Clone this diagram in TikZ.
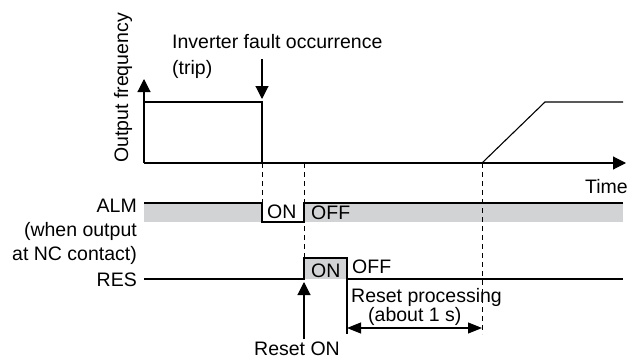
\documentclass[tikz,border=0pt]{standalone}
\usepackage{fontspec}
\setmainfont{Liberation Sans}
\usetikzlibrary{arrows.meta}
\definecolor{band}{HTML}{D2D3D4}
\begin{document}
\begin{tikzpicture}[x=1pt,y=-1pt,
  sig/.style={line width=1.1pt, line join=miter},
  guide/.style={line width=0.9pt, dash pattern=on 5pt off 4pt},
  bigarrow/.style={line width=1.1pt,-{Triangle[length=13pt,width=13pt]}},
  dimarrow/.style={line width=1.1pt,{Triangle[length=14pt,width=11pt]}-{Triangle[length=14pt,width=11pt]}},
  lbl/.style={inner sep=0pt, font=\fontsize{19.5}{23}\selectfont},
]
\useasboundingbox (0,0) rectangle (630,359);
% coordinates
\coordinate (O) at (144,163);
\coordinate (Ytip) at (144,79);
\coordinate (Xtip) at (626,163);
\coordinate (f1) at (144,102);
\coordinate (f2) at (262,102);
\coordinate (f3) at (262,163);
\coordinate (r0) at (482,163);
\coordinate (r1) at (545,102);
\coordinate (r2) at (623,102);
\coordinate (faultS) at (262,59);
\coordinate (faultT) at (262,99);
\coordinate (a0) at (144,203);
\coordinate (a1) at (262,203);
\coordinate (a2) at (262,222);
\coordinate (a3) at (304,222);
\coordinate (a4) at (304,203);
\coordinate (a5) at (623,203);
\coordinate (s0) at (144,279);
\coordinate (s1) at (304,279);
\coordinate (s2) at (304,258);
\coordinate (s3) at (347,258);
\coordinate (s4) at (347,279);
\coordinate (s5) at (623,279);
\coordinate (tick) at (347,334);
\coordinate (d1) at (304,163);
\coordinate (d2) at (482,334);
\coordinate (pL) at (347,328);
\coordinate (pR) at (482,328);
\coordinate (rsS) at (304,339);
\coordinate (rsT) at (304,282);
% gray fills
\fill[band] (144,203) rectangle (262,222);
\fill[band] (304,203) rectangle (623,222);
\fill[band] (s2) rectangle (s4);
% axes
\draw[bigarrow] (O) -- (Ytip);
\draw[bigarrow] (O) -- (Xtip);
% frequency
\draw[sig] (f1) -- (f2) -- (f3);
\draw[sig] (r0) -- (r1) -- (r2);
\draw[bigarrow] (faultS) -- (faultT);
% ALM
\draw[sig] (a0) -- (a1) -- (a2) -- (a3) -- (a4) -- (a5);
% RES
\draw[sig] (s0) -- (s1) -- (s2) -- (s3) -- (s4) -- (s5);
\draw[sig] (s4) -- (tick);
% guides
\draw[guide] (f3) -- (a1);
\draw[guide] (d1) -- (s2);
\draw[guide] (r0) -- (d2);
% arrows
\draw[dimarrow] (pL) -- (pR);
\draw[bigarrow] (rsS) -- (rsT);
% texts
\node[lbl, rotate=90, anchor=base] (yl) at (128,88) {Output frequency};
\node[lbl, anchor=base west] (fault1) at (172,48) {Inverter fault occurrence};
\node[lbl, anchor=base west] (fault2) at (172,74) {(trip)};
\node[lbl, anchor=base east] (time) at (628,193) {Time};
\node[lbl, anchor=base east] (alm) at (137,212) {ALM};
\node[lbl, anchor=base east] (alm2) at (137,236) {(when output};
\node[lbl, anchor=base east] (alm3) at (137,260) {at NC contact)};
\node[lbl, anchor=base east] (res) at (137,286) {RES};
\node[lbl, anchor=base west] (almon) at (267,218) {ON};
\node[lbl, anchor=base west] (almoff) at (311,219) {OFF};
\node[lbl, anchor=base west] (reson) at (311,277) {ON};
\node[lbl, anchor=base west] (resoff) at (352,273) {OFF};
\node[lbl, anchor=base west] (rp1) at (351,302) {Reset processing};
\node[lbl, anchor=base west] (rp2) at (368,321) {(about 1 s)};
\node[lbl, anchor=base west] (rson) at (254,355) {Reset ON};
\end{tikzpicture}
\end{document}
